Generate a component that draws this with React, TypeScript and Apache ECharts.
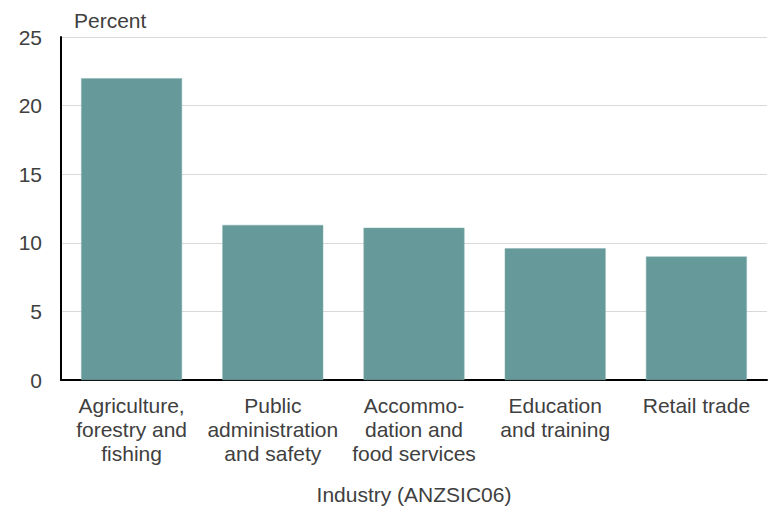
import React, { useEffect, useRef } from "react";
import * as echarts from "echarts";

const categories = [
  "Agriculture,\nforestry and\nfishing",
  "Public\nadministration\nand safety",
  "Accommo-\ndation and\nfood services",
  "Education\nand training",
  "Retail trade",
];
const values = [22.0, 11.3, 11.1, 9.6, 9.0];
const yTicks = { min: 0, max: 25, interval: 5 };
const yAxisTitle = "Percent";
const xAxisTitle = "Industry (ANZSIC06)";

const FONT = "'Liberation Sans', Arial, sans-serif";
const TEXT = "#404040";

export default function App() {
  const ref = useRef<HTMLDivElement>(null);
  useEffect(() => {
    if (!ref.current) return;
    const chart = echarts.init(ref.current, undefined, { renderer: "svg" });
    chart.setOption({
      animation: false,
      backgroundColor: "#ffffff",
      grid: { left: 61, right: 13, top: 37, bottom: 134, containLabel: false },
      graphic: [
        {
          type: "text",
          left: 74,
          top: 10,
          style: { text: yAxisTitle, font: `21px ${FONT}`, fill: TEXT },
        },
      ],
      xAxis: {
        type: "category",
        data: categories,
        name: xAxisTitle,
        nameLocation: "middle",
        nameGap: 104,
        nameTextStyle: { fontFamily: FONT, fontSize: 21, color: TEXT },
        axisLine: { show: true, lineStyle: { color: "#000000", width: 2 } },
        axisTick: { show: false },
        axisLabel: {
          interval: 0,
          margin: 13,
          fontFamily: FONT,
          fontSize: 21,
          lineHeight: 24,
          color: TEXT,
          align: "center",
          verticalAlign: "top",
        },
      },
      yAxis: {
        type: "value",
        min: yTicks.min,
        max: yTicks.max,
        interval: yTicks.interval,
        axisLine: { show: true, lineStyle: { color: "#000000", width: 2 } },
        axisTick: { show: false },
        axisLabel: { margin: 19, fontFamily: FONT, fontSize: 21, color: TEXT },
        splitLine: { show: true, lineStyle: { color: "#d9d9d9", width: 1 } },
      },
      series: [
        {
          type: "bar",
          data: values,
          barWidth: "71.5%",
          itemStyle: { color: "#669999", borderColor: "#8ab3b3", borderWidth: 0.5 },
        },
      ],
    });
    return () => chart.dispose();
  }, []);
  return <div ref={ref} style={{ width: 780, height: 514, margin: -8 }} />;
}
